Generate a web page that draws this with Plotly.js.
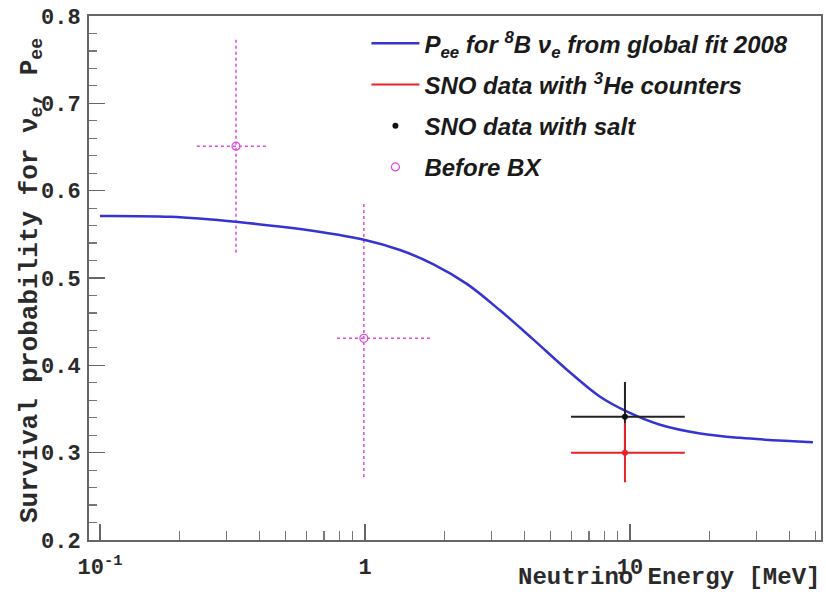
<!DOCTYPE html>
<html>
<head>
<meta charset="utf-8">
<script src="https://cdn.plot.ly/plotly-3.0.1.min.js"></script>
<style>html,body{margin:0;padding:0;background:#fff;}#chart{width:826px;height:597px;}</style>
</head>
<body>
<div id="chart"></div>
<script>
// Global-fit survival probability curve for 8B nu_e
const fitEnergy = [0.1, 0.184, 0.332, 0.569, 1.0, 1.355, 1.806, 2.43, 3.23, 4.30, 5.78, 7.71, 9.75, 12.98, 18.4, 26.0, 49];
const fitPee    = [0.571, 0.570, 0.564, 0.556, 0.5435, 0.532, 0.516, 0.493, 0.463, 0.430, 0.395, 0.364, 0.347, 0.332, 0.322, 0.317, 0.312];

// SNO data with salt
const saltE = [9.57];
const saltEminus = [3.58];
const saltEplus = [6.53];
const saltP = [0.341];
const saltPerr = [0.040];

// SNO data with 3He counters
const heE = [9.57];
const heEminus = [3.58];
const heEplus = [6.53];
const heP = [0.300];
const hePerr = [0.034];

// Before BX
const bxE = [0.326, 0.99];
const bxElo = [0.232, 0.784];
const bxEhi = [0.430, 1.758];
const bxP = [0.651, 0.431];
const bxPlo = [0.529, 0.272];
const bxPhi = [0.775, 0.586];

// Tick labels
const xTickVals = [0.1, 1, 10];
const xTickText = ['10<sup>-1</sup>', '1', '10'];
const xMinorVals = [0.2,0.3,0.4,0.5,0.6,0.7,0.8,0.9,2,3,4,5,6,7,8,9,20,30,40,50];
const yTickVals = [0.2, 0.3, 0.4, 0.5, 0.6, 0.7, 0.8];
const yTickText = ['0.2', '0.3', '0.4', '0.5', '0.6', '0.7', '0.8'];

// dotted error-bar segments for "Before BX" built from the arrays
const bxSegX = [], bxSegY = [];
for (let i = 0; i < bxE.length; i++) {
  bxSegX.push(bxElo[i], bxEhi[i], null, bxE[i], bxE[i], null);
  bxSegY.push(bxP[i], bxP[i], null, bxPlo[i], bxPhi[i], null);
}

const BLUE = '#3434d2';
const RED = '#e8222a';
const MAG = '#e046e6';

const legendFont = {family: 'Liberation Sans, Arial, sans-serif', size: 24, weight: 'bold', style: 'italic', color: '#1a1a1a'};
const monoFont = {family: 'Liberation Mono, Courier New, monospace', size: 22, weight: 'bold', color: '#2a2a2a'};

const traces = [
  {
    x: bxSegX, y: bxSegY, mode: 'lines', showlegend: false, hoverinfo: 'skip',
    line: {color: MAG, width: 1.5, dash: 'dot'}
  },
  {
    x: bxE, y: bxP, mode: 'markers', name: 'Before BX', legendrank: 4, legendgroup: 'd',
    marker: {symbol: 'circle-open', size: 8, color: MAG, line: {width: 1.2, color: MAG}}
  },
  {
    x: fitEnergy, y: fitPee, mode: 'lines', name: 'P<sub>ee</sub> for <sup>8</sup>B ν<sub>e</sub> from global fit 2008',
    legendrank: 1, legendgroup: 'a',
    line: {color: BLUE, width: 2.5, shape: 'spline', smoothing: 1}
  },
  {
    x: saltE, y: saltP, mode: 'markers', name: 'SNO data with salt', legendrank: 3, legendgroup: 'c',
    marker: {symbol: 'circle', size: 6, color: '#111'},
    error_x: {type: 'data', symmetric: false, array: saltEplus, arrayminus: saltEminus, width: 0, thickness: 2, color: '#222'},
    error_y: {type: 'data', array: saltPerr, width: 0, thickness: 2, color: '#222'}
  },
  {
    x: heE, y: heP, mode: 'markers', showlegend: false,
    marker: {symbol: 'circle', size: 6, color: RED},
    error_x: {type: 'data', symmetric: false, array: heEplus, arrayminus: heEminus, width: 0, thickness: 2, color: RED},
    error_y: {type: 'data', array: hePerr, width: 0, thickness: 2, color: RED}
  },
  {
    x: [null], y: [null], mode: 'lines', name: 'SNO data with <sup>3</sup>He counters', legendrank: 2, legendgroup: 'b',
    line: {color: RED, width: 2}
  }
];

const layout = {
  width: 826, height: 597,
  margin: {l: 89, r: 5, t: 16, b: 57},
  paper_bgcolor: '#fff', plot_bgcolor: '#fff',
  showlegend: true,
  legend: {
    x: 0.379, xanchor: 'left', y: 0.99, yanchor: 'top',
    font: legendFont, bgcolor: 'rgba(255,255,255,0)', borderwidth: 0,
    tracegroupgap: 7, itemwidth: 48
  },
  xaxis: {
    type: 'log', range: [-1.0415, 1.7207],
    tickmode: 'array', tickvals: xTickVals, ticktext: xTickText,
    ticks: 'inside', ticklen: 16, tickwidth: 1.5, tickcolor: '#666',
    minor: {tickmode: 'array', tickvals: xMinorVals, ticks: 'inside', ticklen: 9, tickwidth: 1.2, tickcolor: '#777'},
    showline: true, linecolor: '#666', linewidth: 2, mirror: true,
    showgrid: false, zeroline: false,
    tickfont: monoFont, ticklabelstandoff: 6
  },
  yaxis: {
    range: [0.2, 0.8],
    tickmode: 'array', tickvals: yTickVals, ticktext: yTickText,
    ticks: 'inside', ticklen: 16, tickwidth: 1.5, tickcolor: '#666',
    minor: {dtick: 0.02, tick0: 0.2, ticks: 'inside', ticklen: 8, tickwidth: 1.2, tickcolor: '#777'},
    showline: true, linecolor: '#666', linewidth: 2, mirror: true,
    showgrid: false, zeroline: false,
    tickfont: monoFont, ticklabelstandoff: 2
  },
  annotations: [
    {
      text: 'Neutrino Energy [MeV]', xref: 'paper', yref: 'paper',
      x: 1.002, xanchor: 'right', y: -0.071, yanchor: 'middle', showarrow: false,
      font: Object.assign({}, monoFont, {size: 24})
    },
    {
      text: 'Survival probability for ν<sub>e</sub>, P<sub>ee</sub>', xref: 'paper', yref: 'paper',
      x: -0.08, xanchor: 'center', y: 0.495, yanchor: 'middle', showarrow: false, textangle: -90,
      font: Object.assign({}, monoFont, {size: 26})
    }
  ]
};

Plotly.newPlot('chart', traces, layout, {staticPlot: true, displayModeBar: false});
</script>
</body>
</html>
